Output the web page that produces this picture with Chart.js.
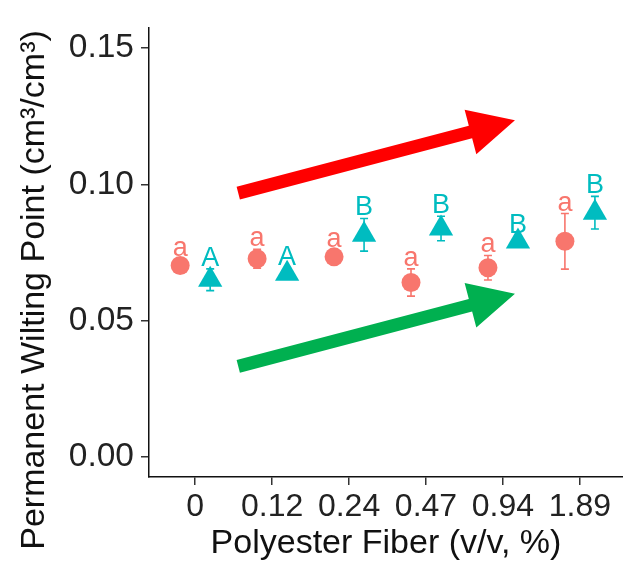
<!DOCTYPE html>
<html><head><meta charset="utf-8">
<script src="https://cdn.jsdelivr.net/npm/chart.js@4"></script>
<style>html,body{margin:0;padding:0;background:#fff;}</style>
</head><body>
<canvas id="c" width="623" height="568"></canvas>
<script>
const categories = ['0', '0.12', '0.24', '0.47', '0.94', '1.89'];
const circleMeans = [0.0702, 0.0727, 0.0734, 0.0640, 0.0694, 0.0791];
const circleErr = [0.0025, 0.0035, 0.0025, 0.0050, 0.0045, 0.0102];
const circleLetters = ['a', 'a', 'a', 'a', 'a', 'a'];
const triMeans = [0.0650, 0.0672, 0.0815, 0.0838, 0.0790, 0.0896];
const triErr = [0.0040, 0.0020, 0.0060, 0.0045, 0.0020, 0.0060];
const triLetters = ['A', 'A', 'B', 'B', 'B', 'B'];
const yTicks = [0, 0.05, 0.10, 0.15];
const arrowFrom = [[0.56, 0.0968], [0.56, 0.0332]];
const arrowTo = [[4.156, 0.1235], [4.156, 0.0599]];
const arrowColors = ['#FF0000', '#00B050'];

const RED = '#F8766D', TEAL = '#00BCC0';
const DODGE = 0.195;
const FONT = '"Liberation Sans", Arial, sans-serif';

const overlay = {
  id: 'overlay',
  afterLayout(chart) {
    // let the x axis run to the right edge of the canvas, as in the reference
    const x = chart.scales.x, R = chart.width;
    x.right = R; x.width = R - x.left;
    chart.chartArea.right = R; chart.chartArea.width = R - chart.chartArea.left;
    x.configure();
  },
  beforeDatasetsDraw(chart) {
    const {ctx, scales: {x, y}} = chart;
    const eb = (means, errs, off, color) => {
      ctx.save();
      ctx.strokeStyle = color; ctx.lineWidth = 1.6;
      means.forEach((m, i) => {
        const px = x.getPixelForValue(i + off);
        const t = y.getPixelForValue(m + errs[i]);
        const b = y.getPixelForValue(m - errs[i]);
        ctx.beginPath();
        ctx.moveTo(px, t); ctx.lineTo(px, b);
        ctx.moveTo(px - 4, t); ctx.lineTo(px + 4, t);
        ctx.moveTo(px - 4, b); ctx.lineTo(px + 4, b);
        ctx.stroke();
      });
      ctx.restore();
    };
    eb(circleMeans, circleErr, -DODGE, RED);
    eb(triMeans, triErr, DODGE, TEAL);
  },
  afterDatasetsDraw(chart) {
    const {ctx, scales: {x, y}} = chart;
    const lab = (means, errs, letters, off, color) => {
      ctx.save();
      ctx.fillStyle = color;
      ctx.font = '27px ' + FONT;
      ctx.textAlign = 'center'; ctx.textBaseline = 'alphabetic';
      means.forEach((m, i) => {
        const px = x.getPixelForValue(i + off);
        const t = y.getPixelForValue(m + errs[i]);
        ctx.fillText(letters[i], px, t - 3);
      });
      ctx.restore();
    };
    lab(circleMeans, circleErr, circleLetters, -DODGE, RED);
    lab(triMeans, triErr, triLetters, DODGE, TEAL);
    arrowFrom.forEach((f, k) => {
      const sx = x.getPixelForValue(f[0]), sy = y.getPixelForValue(f[1]);
      const tx = x.getPixelForValue(arrowTo[k][0]), ty = y.getPixelForValue(arrowTo[k][1]);
      const dx = tx - sx, dy = ty - sy, L = Math.hypot(dx, dy);
      const ux = dx / L, uy = dy / L, nx = -uy, ny = ux;
      const headLen = 46, headHalf = 23, shaftHalf = 6.5;
      const bx = tx - ux * headLen, by = ty - uy * headLen;
      ctx.save();
      ctx.fillStyle = arrowColors[k];
      ctx.beginPath();
      ctx.moveTo(sx + nx * shaftHalf, sy + ny * shaftHalf);
      ctx.lineTo(bx + nx * shaftHalf, by + ny * shaftHalf);
      ctx.lineTo(bx + nx * headHalf, by + ny * headHalf);
      ctx.lineTo(tx, ty);
      ctx.lineTo(bx - nx * headHalf, by - ny * headHalf);
      ctx.lineTo(bx - nx * shaftHalf, by - ny * shaftHalf);
      ctx.lineTo(sx - nx * shaftHalf, sy - ny * shaftHalf);
      ctx.closePath();
      ctx.fill();
      ctx.restore();
    });
  },
  afterDraw(chart) {
    const {ctx} = chart;
    ctx.save();
    ctx.translate(35, 290);
    ctx.rotate(-Math.PI / 2);
    ctx.fillStyle = '#111';
    ctx.font = '34px ' + FONT;
    ctx.textAlign = 'center'; ctx.textBaseline = 'middle';
    ctx.fillText('Permanent Wilting Point (cm³/cm³)', 0, 0);
    ctx.restore();
  }
};

new Chart(document.getElementById('c'), {
  type: 'scatter',
  data: {
    datasets: [
      {data: circleMeans.map((v, i) => ({x: i - DODGE, y: v})), pointStyle: 'circle', radius: 9.5,
       backgroundColor: RED, borderWidth: 0},
      {data: triMeans.map((v, i) => ({x: i + DODGE, y: v})), pointStyle: 'triangle', radius: 14,
       backgroundColor: TEAL, borderWidth: 0}
    ]
  },
  options: {
    responsive: false, animation: false, devicePixelRatio: 1,
    layout: {padding: {top: 28, right: 0, left: 0, bottom: 0}},
    plugins: {legend: {display: false}, tooltip: {enabled: false}},
    scales: {
      x: {
        type: 'linear', min: -0.6, max: 5.56,
        afterBuildTicks: s => { s.ticks = categories.map((_, i) => ({value: i})); },
        afterFit: s => { s.height = 91; },
        ticks: {callback: v => categories[v], font: {size: 32, family: FONT}, color: '#222', padding: 3, autoSkip: false, maxRotation: 0},
        grid: {drawOnChartArea: false, drawTicks: true, tickLength: 8, color: '#333', lineWidth: 1.5},
        border: {display: true, color: '#111', width: 1.5},
        title: {display: true, text: 'Polyester Fiber (v/v, %)', font: {size: 34, family: FONT}, color: '#111', padding: {top: 0, bottom: 4}}
      },
      y: {
        type: 'linear', min: -0.0074, max: 0.1574,
        afterBuildTicks: s => { s.ticks = yTicks.map(v => ({value: v})); },
        afterFit: s => { s.width = 149; },
        ticks: {callback: v => v.toFixed(2), font: {size: 33.5, family: FONT}, color: '#222', padding: 7},
        grid: {drawOnChartArea: false, drawTicks: true, tickLength: 8, color: '#333', lineWidth: 1.5},
        border: {display: true, color: '#111', width: 1.5}
      }
    }
  },
  plugins: [overlay]
});
</script>
</body></html>
